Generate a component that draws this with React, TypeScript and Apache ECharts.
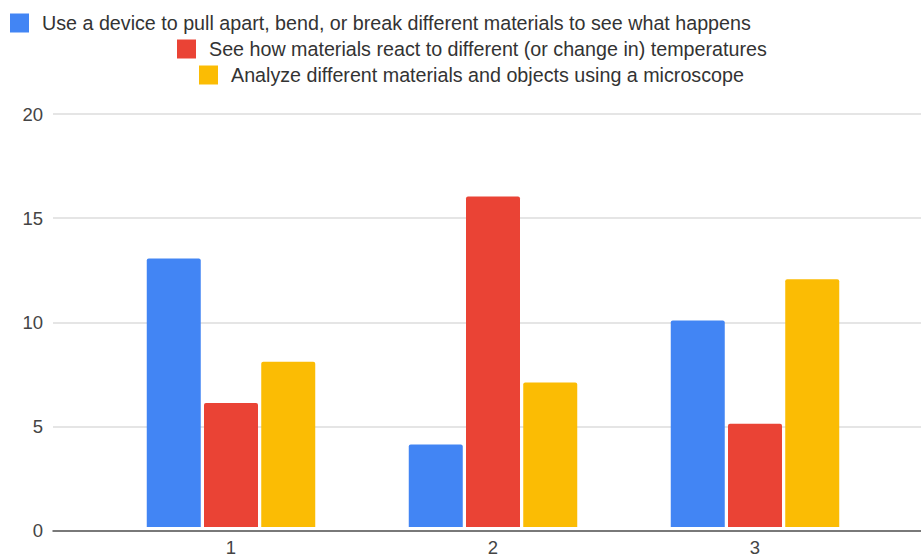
import React, { useEffect, useRef } from "react";
import * as echarts from "echarts";

const categories = ["1", "2", "3"];
const seriesNames = [
  "Use a device to pull apart, bend, or break different materials to see what happens",
  "See how materials react to different (or change in) temperatures",
  "Analyze different materials and objects using a microscope",
];
const pullApart = [13, 4, 10];
const temperatures = [6, 16, 5];
const microscope = [8, 7, 12];
const yTicks = [0, 5, 10, 15, 20];

const colors = ["#4285F4", "#EA4335", "#FBBC04"];
const FONT = "'Liberation Sans', Arial, sans-serif";

export default function App() {
  const ref = useRef<HTMLDivElement>(null);
  useEffect(() => {
    if (!ref.current) return;
    const chart = echarts.init(ref.current, undefined, { renderer: "svg" });
    const legendPos = [
      { left: 10, top: 13 },
      { left: 177, top: 39 },
      { left: 199, top: 65 },
    ];
    const seriesData = [pullApart, temperatures, microscope];
    chart.setOption({
      animation: false,
      backgroundColor: "#ffffff",
      textStyle: { fontFamily: FONT },
      legend: seriesNames.map((n, i) => ({
        data: [n],
        left: legendPos[i].left,
        top: legendPos[i].top,
        padding: 0,
        itemWidth: 19,
        itemHeight: 19,
        icon: "rect",
        selectedMode: false,
        textStyle: {
          fontFamily: FONT,
          fontSize: 19.7,
          color: "#333333",
          padding: [1, 0, 0, 8],
          lineHeight: 19,
        },
      })),
      grid: [
        { left: 53, right: 0, top: 114, bottom: 26.5, containLabel: false },
        { left: 100, width: 786, top: 114, bottom: 26.5, containLabel: false },
      ],
      xAxis: [
        {
          type: "category",
          gridIndex: 0,
          data: categories,
          axisLine: { show: true, lineStyle: { color: "#555555", width: 1.5 } },
          axisTick: { show: false },
          axisLabel: { show: false },
          splitLine: { show: false },
        },
        {
          type: "category",
          gridIndex: 1,
          data: categories,
          axisLine: { show: false },
          axisTick: { show: false },
          axisLabel: { color: "#444444", fontSize: 18.5, margin: 11, fontFamily: FONT },
          splitLine: { show: false },
        },
      ],
      yAxis: [
        {
          type: "value",
          gridIndex: 0,
          min: yTicks[0],
          max: yTicks[yTicks.length - 1],
          interval: 5,
          axisLine: { show: false },
          axisTick: { show: false },
          axisLabel: { color: "#444444", fontSize: 18.5, margin: 10, fontFamily: FONT },
          splitLine: { show: true, lineStyle: { color: "#dddddd", width: 1.5 } },
        },
        {
          type: "value",
          gridIndex: 1,
          min: yTicks[0],
          max: yTicks[yTicks.length - 1],
          interval: 5,
          show: false,
          splitLine: { show: false },
        },
      ],
      series: seriesNames.map((n, i) => ({
        name: n,
        type: "bar",
        xAxisIndex: 1,
        yAxisIndex: 1,
        data: seriesData[i],
        barWidth: 54,
        barGap: "6%",
        itemStyle: { color: colors[i], borderRadius: [2, 2, 0, 0] },
        z: 1,
      })),
    });
    return () => chart.dispose();
  }, []);
  return <div ref={ref} style={{ width: 921, height: 557, position: "fixed", left: 0, top: 0 }} />;
}
